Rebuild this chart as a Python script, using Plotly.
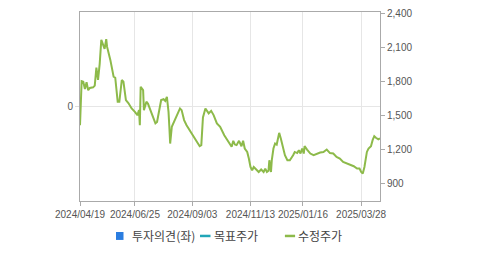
import plotly.graph_objects as go

dates = [
    "2024-04-19", "2024-04-21", "2024-04-23", "2024-04-25", "2024-04-27", "2024-04-29",
    "2024-05-01", "2024-05-05", "2024-05-07", "2024-05-09", "2024-05-11", "2024-05-13",
    "2024-05-15", "2024-05-19", "2024-05-21", "2024-05-22", "2024-05-26", "2024-05-30",
    "2024-06-01", "2024-06-04", "2024-06-06", "2024-06-09", "2024-06-11", "2024-06-14",
    "2024-06-17", "2024-06-21", "2024-06-25", "2024-06-28", "2024-06-30", "2024-07-01",
    "2024-07-02", "2024-07-05", "2024-07-06", "2024-07-09", "2024-07-11", "2024-07-14",
    "2024-07-17", "2024-07-20", "2024-07-22", "2024-07-25", "2024-07-27", "2024-07-30",
    "2024-08-01", "2024-08-03", "2024-08-05", "2024-08-06", "2024-08-07", "2024-08-09",
    "2024-08-11", "2024-08-13", "2024-08-15", "2024-08-19", "2024-08-21", "2024-08-24",
    "2024-08-27", "2024-09-02", "2024-09-08", "2024-09-12", "2024-09-14", "2024-09-15",
    "2024-09-16", "2024-09-19", "2024-09-23", "2024-09-26", "2024-09-29", "2024-10-03",
    "2024-10-07", "2024-10-12", "2024-10-17", "2024-10-21", "2024-10-23", "2024-10-25",
    "2024-10-27", "2024-10-30", "2024-11-02", "2024-11-04", "2024-11-06", "2024-11-09",
    "2024-11-11", "2024-11-13", "2024-11-15", "2024-11-17", "2024-11-20", "2024-11-23",
    "2024-11-26", "2024-11-29", "2024-12-01", "2024-12-03", "2024-12-05", "2024-12-06",
    "2024-12-08", "2024-12-09", "2024-12-11", "2024-12-13", "2024-12-15", "2024-12-17",
    "2024-12-18", "2024-12-20", "2024-12-22", "2024-12-25", "2024-12-28", "2024-12-31",
    "2025-01-04", "2025-01-06", "2025-01-09", "2025-01-11", "2025-01-13", "2025-01-15",
    "2025-01-17", "2025-01-18", "2025-01-21", "2025-01-25", "2025-01-29", "2025-02-02",
    "2025-02-06", "2025-02-10", "2025-02-14", "2025-02-18", "2025-02-22", "2025-02-26",
    "2025-03-02", "2025-03-06", "2025-03-11", "2025-03-15", "2025-03-19", "2025-03-23",
    "2025-03-26", "2025-03-28", "2025-03-30", "2025-04-01", "2025-04-04", "2025-04-06",
    "2025-04-09", "2025-04-11", "2025-04-13", "2025-04-15", "2025-04-18", "2025-04-20",
]

adj_price = [
    1411, 1800, 1795, 1730, 1790, 1720,
    1740, 1745, 1760, 1919, 1810, 1950,
    2164, 2084, 2170, 2104, 1987, 1839,
    1830, 1618, 1618, 1810, 1795, 1633,
    1606, 1559, 1529, 1500, 1544, 1411,
    1750, 1721, 1544, 1618, 1600, 1544,
    1473, 1427, 1440, 1544, 1633, 1640,
    1625, 1662, 1529, 1397, 1249, 1397,
    1427, 1456, 1500, 1559, 1544, 1456,
    1411, 1338, 1264, 1226, 1235, 1397,
    1480, 1559, 1515, 1538, 1500, 1427,
    1397, 1323, 1264, 1220, 1273, 1240,
    1235, 1273, 1225, 1273, 1205, 1175,
    1117, 1042, 1013, 1042, 1020, 998,
    1020, 998, 1028, 998, 1010, 1102,
    998, 1102, 1205, 1249, 1240, 1294,
    1343, 1294, 1235, 1146, 1102, 1102,
    1146, 1175, 1165, 1190, 1161, 1205,
    1161, 1226, 1196, 1161, 1146, 1161,
    1170, 1175, 1196, 1165, 1161, 1131,
    1117, 1087, 1072, 1060, 1049, 1028,
    1028, 998, 984, 1042, 1175, 1205,
    1226, 1279, 1314, 1300, 1287, 1294,
]

tick_dates = ["2024-04-19", "2024-06-25", "2024-09-03", "2024-11-13", "2025-01-16", "2025-03-28"]
tick_labels = ["2024/04/19", "2024/06/25", "2024/09/03", "2024/11/13", "2025/01/16", "2025/03/28"]
right_ticks = [900, 1200, 1500, 1800, 2100, 2400]
legend_names = ["투자의견(좌)", "목표주가", "수정주가"]

FONT = "'Liberation Sans', Arial, 'Noto Sans CJK KR', sans-serif"
LEGEND_FONT = "'Noto Sans CJK KR', 'Liberation Sans', sans-serif"
GREEN = "#8dba4a"
TEAL = "#21a6b8"
BLUE = "#2b7de0"

fig = go.Figure()
fig.add_trace(go.Bar(x=[None], y=[None], name=legend_names[0], marker_color=BLUE,
                     yaxis="y", showlegend=False))
fig.add_trace(go.Scatter(x=[None], y=[None], name=legend_names[1], mode="lines",
                         line=dict(color=TEAL, width=2), yaxis="y2", showlegend=False))
fig.add_trace(go.Scatter(x=dates, y=adj_price, name=legend_names[2], mode="lines",
                         line=dict(color=GREEN, width=2), yaxis="y2", showlegend=False))

# manual legend (paper coordinates, below the plot)
ly = -0.185
fig.add_shape(type="rect", xref="paper", yref="paper", x0=0.12, x1=0.145,
              y0=ly - 0.021, y1=ly + 0.021, fillcolor=BLUE, line=dict(width=0))
fig.add_shape(type="line", xref="paper", yref="paper", x0=0.40, x1=0.435,
              y0=ly, y1=ly, line=dict(color=TEAL, width=2.5))
fig.add_shape(type="line", xref="paper", yref="paper", x0=0.683, x1=0.717,
              y0=ly, y1=ly, line=dict(color=GREEN, width=2.5))
for name, xl in zip(legend_names, [0.165, 0.441, 0.72]):
    fig.add_annotation(text=name, xref="paper", yref="paper", x=xl, y=ly,
                       xanchor="left", yanchor="middle", showarrow=False,
                       font=dict(family=LEGEND_FONT, size=12, color="#444444"))

fig.update_layout(
    width=479, height=255,
    margin=dict(l=80, r=99, t=12, b=54, autoexpand=False),
    paper_bgcolor="white", plot_bgcolor="white",
    font=dict(family=FONT, size=10, color="#555555"),
    showlegend=False,
    xaxis=dict(
        type="date", range=["2024-04-19", "2025-04-20"],
        tickvals=tick_dates, ticktext=tick_labels, tickangle=0, automargin=False,
        showgrid=True, gridcolor="#e6e6e6", gridwidth=1,
        showline=True, linecolor="#aaaaaa", linewidth=1, mirror=True,
        ticks="outside", ticklen=4, tickcolor="#aaaaaa",
        tickfont=dict(size=10, color="#555555"), zeroline=False,
    ),
    yaxis=dict(
        range=[-1, 1], tickvals=[0], ticktext=["0"], automargin=False,
        showgrid=True, gridcolor="#e6e6e6", zeroline=False,
        showline=True, linecolor="#aaaaaa", linewidth=1,
        ticks="outside", ticklen=4, tickcolor="#dddddd",
        tickfont=dict(size=10, color="#555555"),
    ),
    yaxis2=dict(
        overlaying="y", side="right", range=[742, 2410], automargin=False,
        tickvals=right_ticks, tickformat=",d",
        showgrid=False, zeroline=False,
        showline=True, linecolor="#aaaaaa", linewidth=1,
        ticks="outside", ticklen=4, tickcolor="#aaaaaa",
        tickfont=dict(size=10, color="#555555"),
    ),
)

fig.write_html("out.html")
